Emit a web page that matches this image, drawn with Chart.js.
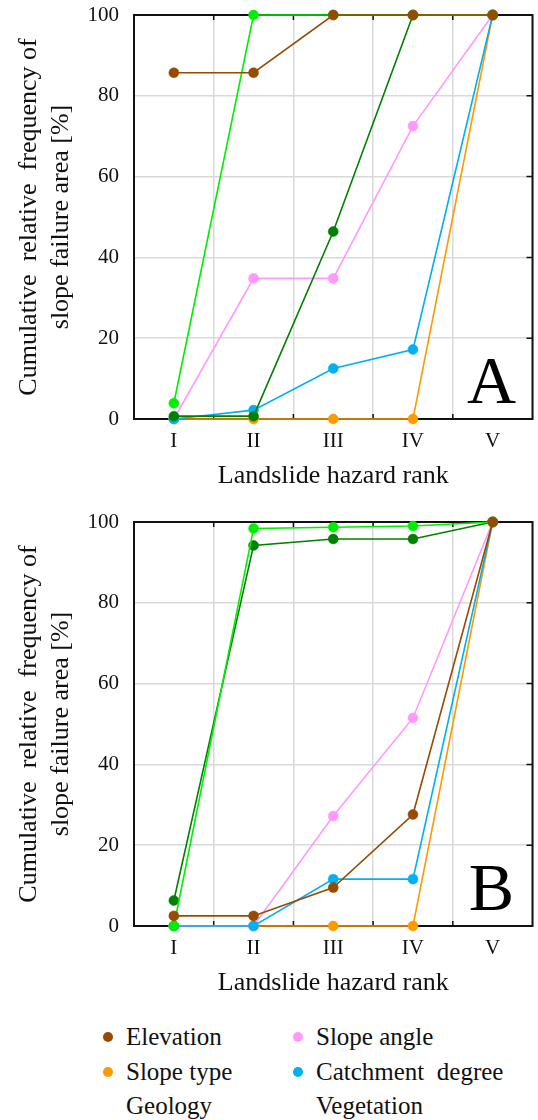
<!DOCTYPE html>
<html>
<head>
<meta charset="utf-8">
<script src="https://cdn.jsdelivr.net/npm/chart.js@4.4.0/dist/chart.umd.min.js"></script>
<style>
  body { margin: 0; background: #fff; }
  #wrap { position: relative; width: 538px; height: 1120px; overflow: hidden; font-family: 'Liberation Serif', 'Times New Roman', serif; color: #111; }
  #chartA { position: absolute; left: 0; top: 0; }
  #chartB { position: absolute; left: 0; top: 500px; }
  .leg { position: absolute; font-size: 25px; line-height: 30px; height: 30px; white-space: nowrap; }
  .dot { position: absolute; width: 10px; height: 10px; border-radius: 50%; }
</style>
</head>
<body>
<div id="wrap">
  <canvas id="chartA" width="538" height="500"></canvas>
  <canvas id="chartB" width="538" height="507"></canvas>

  <div class="dot" style="left:103px; top:1032px; background:#964B00"></div>
  <div class="leg" style="left:126px; top:1022px">Elevation</div>
  <div class="dot" style="left:293px; top:1032px; background:#FF99FF"></div>
  <div class="leg" style="left:316px; top:1022px">Slope angle</div>

  <div class="dot" style="left:103px; top:1067px; background:#FF9900"></div>
  <div class="leg" style="left:126px; top:1057px">Slope type</div>
  <div class="dot" style="left:293px; top:1067px; background:#00B0F0"></div>
  <div class="leg" style="left:316px; top:1057px">Catchment&nbsp; degree</div>

  <div class="leg" style="left:126px; top:1091px">Geology</div>
  <div class="leg" style="left:316px; top:1091px">Vegetation</div>
</div>
<script>
const ranks = ['I', 'II', 'III', 'IV', 'V'];
const seriesNames = ['Elevation', 'Slope angle', 'Slope type', 'Catchment degree', 'Geology', 'Vegetation'];
const seriesColors = ['#964B00', '#FF99FF', '#FF9900', '#00B0F0', '#008000', '#00EE00'];
// lower number is drawn on top
const drawOrder = [0, 4, 5, 3, 2, 1];

// Panel A
const elevationA = [85.7, 85.7, 100, 100, 100];
const slopeAngleA = [0, 34.8, 34.8, 72.5, 100];
const slopeTypeA = [0, 0, 0, 0, 100];
const catchmentA = [0, 2.2, 12.5, 17.2, 100];
const geologyA = [0.7, 0.7, 46.4, 100, 100];
const vegetationA = [3.9, 100, 100, 100, 100];

// Panel B
const elevationB = [2.5, 2.5, 9.5, 27.6, 100];
const slopeAngleB = [0, 0, 27.2, 51.5, 100];
const slopeTypeB = [0, 0, 0, 0, 100];
const catchmentB = [0, 0, 11.6, 11.6, 100];
const geologyB = [6.3, 94.2, 95.8, 95.8, 100];
const vegetationB = [0, 98.4, 98.7, 99.0, 100];

const serif = "'Liberation Serif', 'Times New Roman', serif";
Chart.defaults.font.family = serif;
Chart.defaults.color = '#111';

// frame, inner tick marks and the big panel letter
const framePlugin = {
    id: 'panelFrame',
    beforeDatasetsDraw(chart) {
        const { ctx, chartArea: a, scales: { x, y } } = chart;
        ctx.save();
        ctx.strokeStyle = '#111';
        ctx.lineWidth = 2;
        ctx.strokeRect(a.left, a.top, a.right - a.left, a.bottom - a.top);
        ctx.lineWidth = 1.5;
        ctx.beginPath();
        for (let i = 0; i < ranks.length - 1; i++) {
            const gx = (x.getPixelForValue(i) + x.getPixelForValue(i + 1)) / 2;
            ctx.moveTo(gx, a.top); ctx.lineTo(gx, a.top + 5);
            ctx.moveTo(gx, a.bottom); ctx.lineTo(gx, a.bottom - 5);
        }
        y.ticks.forEach(t => {
            if (t.value > 0 && t.value < 100) {
                const gy = y.getPixelForValue(t.value);
                ctx.moveTo(a.right, gy); ctx.lineTo(a.right - 6, gy);
            }
        });
        ctx.stroke();
        ctx.restore();
    },
    afterDraw(chart, args, opts) {
        const { ctx, chartArea: a } = chart;
        ctx.save();
        ctx.fillStyle = '#000';
        ctx.font = '68px ' + serif;
        ctx.textAlign = 'center';
        ctx.textBaseline = 'alphabetic';
        ctx.fillText(opts.text, a.right - 41, a.bottom - 16);
        ctx.restore();
    }
};

function buildDatasets(values) {
    return seriesNames.map((name, i) => ({
        label: name,
        data: values[i],
        borderColor: seriesColors[i],
        backgroundColor: seriesColors[i],
        borderWidth: 1.6,
        pointRadius: 5,
        pointBorderWidth: 0.5,
        tension: 0,
        clip: false,
        order: drawOrder[i]
    }));
}

function makeOptions(letter, topPad) {
    return {
        responsive: false,
        animation: false,
        layout: { padding: { top: topPad, right: 1, left: 0, bottom: 0 } },
        plugins: {
            legend: { display: false },
            tooltip: { enabled: false },
            panelFrame: { text: letter }
        },
        scales: {
            x: {
                offset: true,
                grid: { offset: true, color: '#d9d9d9', lineWidth: 1.5, drawTicks: false },
                border: { display: false },
                ticks: { padding: 10, font: { size: 21 } },
                title: {
                    display: true,
                    text: 'Landslide hazard rank',
                    font: { size: 26 },
                    padding: { top: 0, bottom: 8 }
                },
                afterFit(scale) {
                    scale.height = 81;
                    scale.paddingLeft = 0;
                    scale.paddingRight = 0;
                }
            },
            y: {
                min: 0,
                max: 100,
                grid: { color: '#d9d9d9', lineWidth: 1.5, drawTicks: false },
                border: { display: false },
                ticks: { stepSize: 20, padding: 15, font: { size: 21 } },
                title: {
                    display: true,
                    text: ['Cumulative  relative  frequency of', 'slope failure area [%]'],
                    font: { size: 26 },
                    padding: { top: 14, bottom: 0 }
                },
                afterFit(scale) {
                    scale.width = 134;
                    scale.paddingTop = 0;
                    scale.paddingBottom = 0;
                }
            }
        }
    };
}

new Chart(document.getElementById('chartA'), {
    type: 'line',
    data: {
        labels: ranks,
        datasets: buildDatasets([elevationA, slopeAngleA, slopeTypeA, catchmentA, geologyA, vegetationA])
    },
    options: makeOptions('A', 15),
    plugins: [framePlugin]
});

new Chart(document.getElementById('chartB'), {
    type: 'line',
    data: {
        labels: ranks,
        datasets: buildDatasets([elevationB, slopeAngleB, slopeTypeB, catchmentB, geologyB, vegetationB])
    },
    options: makeOptions('B', 22),
    plugins: [framePlugin]
});
</script>
</body>
</html>
